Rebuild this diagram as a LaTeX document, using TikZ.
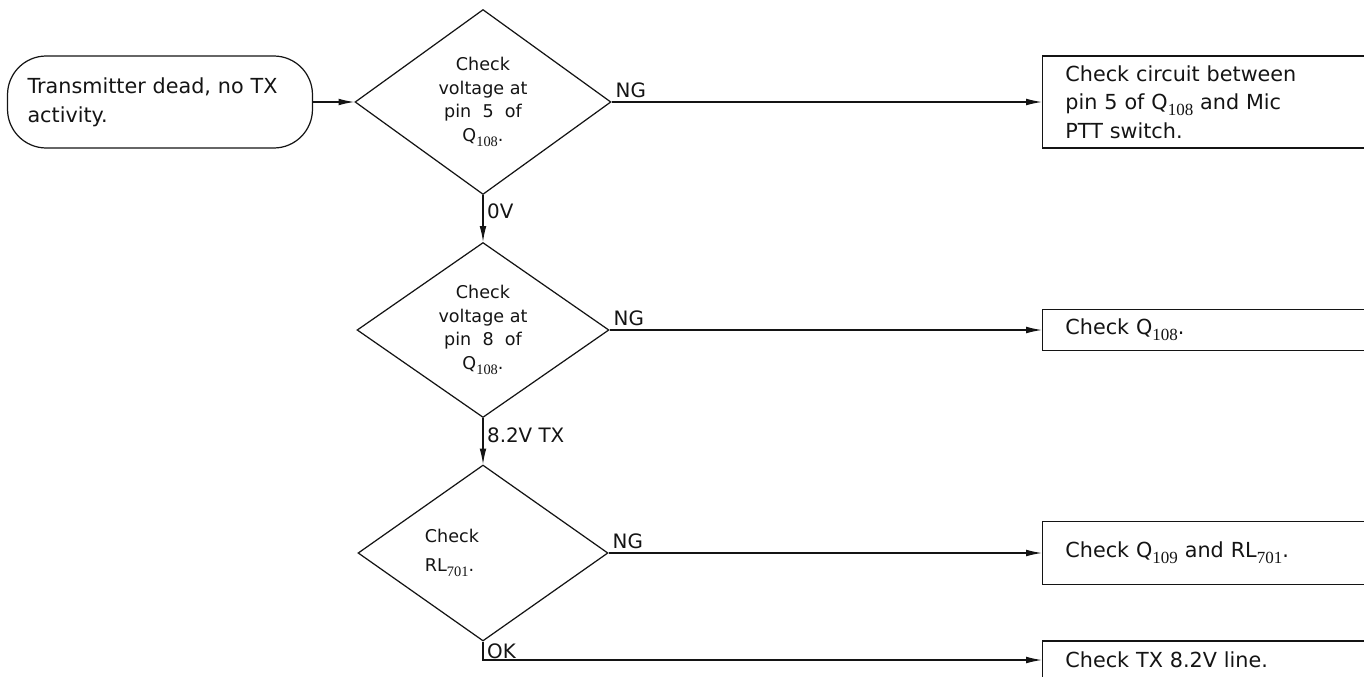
\documentclass[tikz,border=0pt]{standalone}
\usepackage{fontspec}
\usepackage{graphicx}
\setmainfont{DejaVu Sans}
\newfontfamily\subfont{Liberation Serif}
\usetikzlibrary{shapes.geometric, arrows.meta, positioning}
\definecolor{InkBlack}{RGB}{20, 20, 20}
\newcommand{\subno}[1]{\raisebox{-0.55ex}{\subfont\scalebox{0.82}{#1}}}

\begin{document}
\begin{tikzpicture}[x=0.02cm, y=-0.02cm, line width=0.7pt, draw=InkBlack, text=InkBlack,
    startbox/.style={draw, rounded corners=22pt, minimum width=6.1cm, minimum height=1.84cm,
      text width=5.3cm, inner xsep=0.4cm, align=left, font=\fontsize{11.8}{16.5}\selectfont},
    decision/.style={draw, diamond, aspect=1.39, inner sep=0pt, align=center,
      font=\fontsize{10}{13.4}\selectfont},
    fixbox/.style={draw, anchor=west, text width=7cm, inner xsep=13pt, align=left,
      font=\fontsize{11.8}{16.2}\selectfont},
    flowlabel/.style={font=\fontsize{11.3}{13}\selectfont, inner sep=2pt},
    arr/.style={-{Latex[length=9pt, width=3.8pt]}}]

    % frame of the page
    \useasboundingbox (0,0) rectangle (1364,676);
    \clip (0,0) rectangle (1364,676);

    % start
    \node[startbox] (start) at (160,102) {Transmitter dead, no TX\\activity.};

    % checks
    \node[decision, minimum width=5.12cm, minimum height=3.7cm] (chk1) at (483,102)
      {Check\\voltage at\\pin\ \ 5\ \ of\\Q\subno{108}.};
    \node[decision, minimum width=5.04cm, minimum height=3.5cm] (chk2) at (483,330)
      {Check\\voltage at\\pin\ \ 8\ \ of\\Q\subno{108}.};
    \node[decision, minimum width=5.0cm, minimum height=3.52cm] (chk3) at (483,553) {};
    \node[decision, draw=none, align=left] (chk3txt) at (452,553) {Check\\[3pt]RL\subno{701}.};

    % remedies
    \node[fixbox, minimum height=1.84cm] (fix1) at (1042,102)
      {Check circuit between\\pin 5 of Q\subno{108} and Mic\\PTT switch.};
    \node[fixbox, minimum height=0.82cm] (fix2) at (1042,330) {Check Q\subno{108}.};
    \node[fixbox, minimum height=1.26cm] (fix3) at (1042,553) {Check Q\subno{109} and RL\subno{701}.};
    \node[fixbox, minimum height=0.76cm] (fix4) at (1042,660) {Check TX 8.2V line.};

    % connectors
    \draw[arr] (start.east) -- (chk1.west);
    \draw[arr] (chk1.east) -- node[flowlabel, pos=0, anchor=south west] {NG} (fix1.west);
    \draw[arr] (chk1.south) -- node[flowlabel, pos=0.35, right] {0V} (chk2.north);
    \draw[arr] (chk2.east) -- node[flowlabel, pos=0, anchor=south west] {NG} (fix2.west);
    \draw[arr] (chk2.south) -- node[flowlabel, pos=0.38, right] {8.2V TX} (chk3.north);
    \draw[arr] (chk3.east) -- node[flowlabel, pos=0, anchor=south west] {NG} (fix3.west);
    \draw[arr] (chk3.south) |- node[flowlabel, pos=0.25, right] {OK} (fix4.west);
  \end{tikzpicture}
\end{document}
